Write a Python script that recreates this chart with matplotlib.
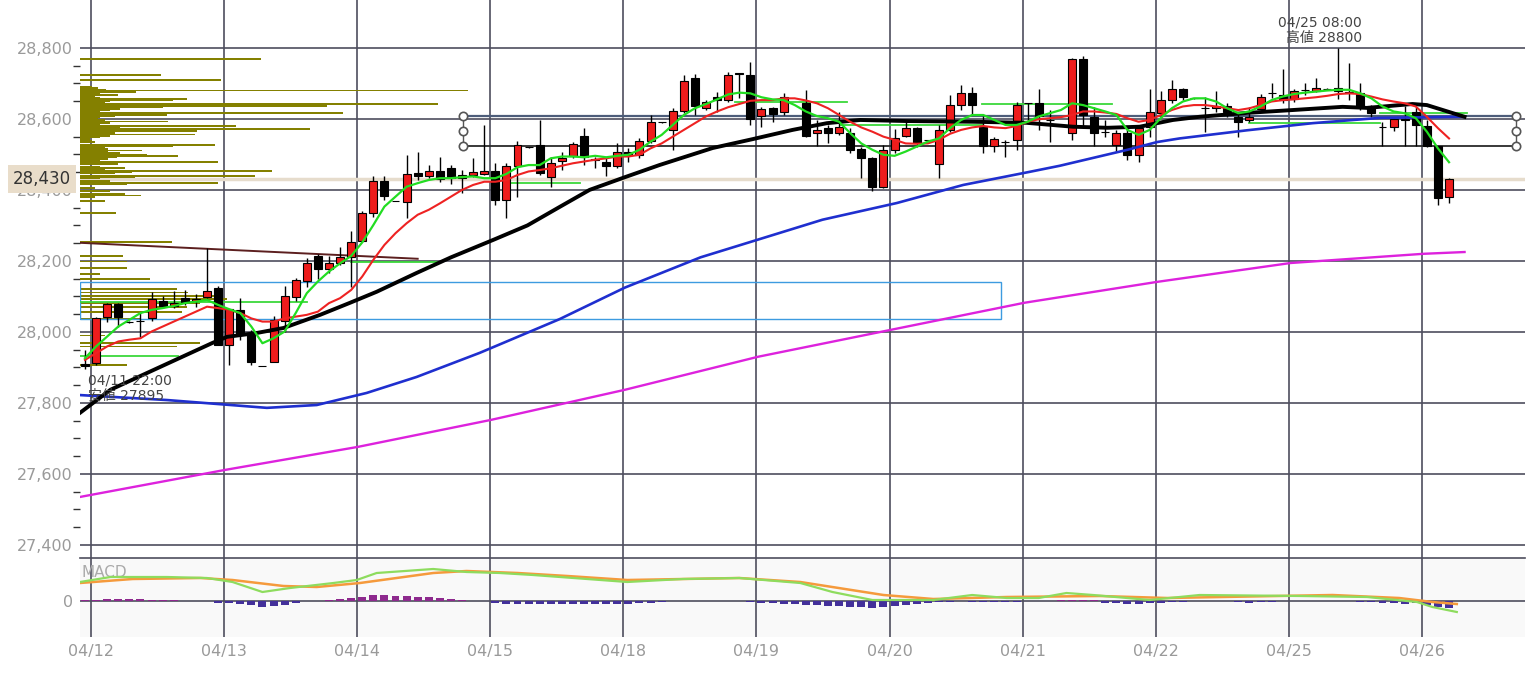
import numpy as np
import matplotlib.pyplot as plt
from matplotlib.patches import Rectangle
from matplotlib.ticker import FixedLocator, FuncFormatter
import matplotlib.transforms as mtransforms

nan = np.nan

# --- 2h candles, 04/11 22:00 -> 04/26 ---
opens = [27910, 27912, 28041, 28079, 28027, 28030, 28038, 28087, 28073, 28095,
         28088, 28098, 28123, 27963, 28062, 27998, 27903, 27916, 28032, 28097,
         28142, 28214, 28176, 28193, 28212, 28257, 28334, 28426, 28370, 28367,
         28449, 28439, 28453, 28461, 28434, 28442, 28445, 28452, 28372, 28468,
         28520, 28527, 28437, 28481, 28496, 28552, 28485, 28480, 28468, 28508,
         28499, 28539, 28590, 28569, 28623, 28715, 28630, 28663, 28654, 28728,
         28724, 28608, 28632, 28620, nan, 28644, 28559, 28574, 28561, 28559,
         28514, 28489, 28407, 28513, 28552, 28574, 28541, 28473, 28569, 28639,
         28674, 28576, 28524, 28536, 28541, 28644, 28644, 28597, nan, 28560,
         28768, 28605, 28564, 28527, 28559, 28499, 28576, 28618, 28653, 28683,
         28658, 28630, 28630, 28636, 28606, 28597, 28627, 28672, 28667, 28655,
         28682, 28680, 28684, 28686, 28672, 28673, 28636, 28578, 28576, 28600,
         28620, 28580, 28524, 28380]
highs = [27950, 28043, 28081, 28081, 28030, 28053, 28111, 28100, 28116, 28118,
         28106, 28236, 28130, 28064, 28095, 28005, 27903, 28046, 28130, 28151,
         28207, 28220, 28213, 28238, 28284, 28341, 28438, 28438, 28370, 28499,
         28508, 28470, 28494, 28470, 28456, 28489, 28583, 28475, 28475, 28539,
         28522, 28597, 28494, 28508, 28536, 28574, 28492, 28494, 28533, 28517,
         28545, 28611, 28592, 28630, 28724, 28727, 28653, 28677, 28733, 28730,
         28759, 28634, 28634, 28672, nan, 28682, 28597, 28583, 28620, 28573,
         28522, 28494, 28527, 28571, 28597, 28578, 28541, 28583, 28668, 28696,
         28689, 28608, 28550, 28541, 28649, 28646, 28683, 28625, nan, 28771,
         28777, 28634, 28597, 28569, 28580, 28583, 28683, 28680, 28710, 28686,
         28660, 28663, 28680, 28644, 28620, 28634, 28670, 28700, 28740, 28683,
         28702, 28714, 28688, 28800, 28758, 28700, 28639, 28590, 28604, 28636,
         28634, 28597, 28524, 28433]
lows = [27895, 27907, 28029, 28015, 28025, 27987, 28032, 28067, 28068, 28077,
        28070, 28095, 27963, 27907, 27977, 27907, 27903, 27916, 28001, 28088,
        28126, 28148, 28165, 28188, 28126, 28252, 28325, 28372, 28370, 28320,
        28428, 28433, 28423, 28418, 28390, 28437, 28442, 28358, 28320, 28381,
        28518, 28442, 28409, 28456, 28489, 28470, 28462, 28438, 28461, 28480,
        28489, 28532, 28588, 28513, 28616, 28611, 28625, 28620, 28649, 28660,
        28583, 28578, 28592, 28611, nan, 28550, 28524, 28533, 28555, 28505,
        28433, 28398, 28405, 28503, 28550, 28521, 28541, 28433, 28564, 28625,
        28611, 28503, 28508, 28494, 28512, 28592, 28569, 28536, nan, 28541,
        28580, 28524, 28550, 28508, 28484, 28480, 28550, 28606, 28644, 28653,
        28656, 28564, 28620, 28606, 28550, 28592, 28625, 28658, 28644, 28649,
        28667, 28676, 28684, 28655, 28654, 28625, 28605, 28524, 28567, 28524,
        28524, 28522, 28358, 28362]
closes = [27903, 28038, 28079, 28041, 28027, 28030, 28092, 28073, 28082, 28083,
          28093, 28116, 27963, 28064, 27991, 27916, 27903, 28034, 28102, 28146,
          28193, 28176, 28193, 28212, 28253, 28334, 28426, 28383, 28370, 28444,
          28439, 28453, 28430, 28433, 28442, 28451, 28453, 28372, 28468, 28527,
          28520, 28447, 28477, 28489, 28529, 28492, 28487, 28468, 28508, 28499,
          28539, 28590, 28590, 28623, 28708, 28635, 28649, 28654, 28724, 28726,
          28599, 28627, 28614, 28663, nan, 28552, 28569, 28561, 28578, 28512,
          28489, 28409, 28513, 28545, 28574, 28531, 28541, 28569, 28639, 28672,
          28639, 28524, 28542, 28536, 28639, 28644, 28607, 28597, nan, 28768,
          28611, 28560, 28564, 28561, 28499, 28574, 28620, 28653, 28683, 28661,
          28658, 28630, 28636, 28620, 28590, 28606, 28662, 28672, 28653, 28680,
          28682, 28688, 28684, 28680, 28676, 28635, 28618, 28578, 28601, 28598,
          28583, 28524, 28376, 28430]

# short / mid moving averages (one value per candle)
ma_green = [27926, 27959, 27987, 28015, 28034, 28053, 28062, 28067, 28073, 28081,
            28085, 28090, 28076, 28064, 28053, 28015, 27968, 27982, 28001, 28053,
            28109, 28142, 28170, 28193, 28214, 28252, 28301, 28353, 28381, 28409,
            28419, 28428, 28433, 28433, 28436, 28438, 28433, 28433, 28445, 28464,
            28470, 28470, 28489, 28494, 28494, 28492, 28496, 28492, 28496, 28499,
            28513, 28536, 28555, 28583, 28611, 28630, 28642, 28655, 28669, 28674,
            28672, 28661, 28655, 28653, 28639, 28621, 28608, 28602, 28592, 28560,
            28531, 28513, 28499, 28496, 28508, 28522, 28536, 28545, 28574, 28597,
            28611, 28611, 28597, 28583, 28583, 28592, 28607, 28616, 28625, 28644,
            28639, 28630, 28621, 28611, 28569, 28555, 28569, 28602, 28630, 28649,
            28658, 28658, 28649, 28630, 28616, 28621, 28635, 28653, 28663, 28670,
            28674, 28677, 28680, 28682, 28682, 28672, 28658, 28635, 28621, 28616,
            28602, 28564, 28517, 28478]
ma_red = [27921, 27940, 27959, 27973, 27978, 27982, 28001, 28015, 28029, 28043,
          28057, 28071, 28067, 28062, 28053, 28038, 28029, 28029, 28038, 28043,
          28048, 28057, 28081, 28095, 28118, 28156, 28203, 28245, 28278, 28306,
          28330, 28344, 28362, 28381, 28400, 28414, 28423, 28423, 28428, 28442,
          28452, 28456, 28461, 28468, 28475, 28480, 28485, 28489, 28494, 28494,
          28499, 28517, 28531, 28550, 28569, 28588, 28607, 28621, 28633, 28642,
          28651, 28653, 28653, 28658, 28658, 28652, 28644, 28630, 28611, 28592,
          28576, 28564, 28550, 28541, 28531, 28530, 28531, 28541, 28558, 28569,
          28576, 28580, 28576, 28574, 28580, 28592, 28599, 28602, 28605, 28611,
          28621, 28621, 28618, 28614, 28602, 28592, 28597, 28611, 28625, 28635,
          28639, 28639, 28635, 28630, 28625, 28630, 28639, 28649, 28653, 28655,
          28658, 28661, 28665, 28670, 28672, 28670, 28663, 28655, 28649, 28644,
          28635, 28606, 28574, 28545]

# slower averages, read at a few candle positions
ma_black_x = [-0.45, 2.3, 11.5, 12.8, 15.5, 17.9, 21.2, 23.9, 26.3, 29.9, 33.0, 36.8,
              39.9, 42.8, 45.5, 48.7, 51.8, 56.6, 60.2, 63.8, 66.9, 69.9, 74.1, 80.1, 84.9,
              89.1, 92.2, 95.1, 98.1, 100.5, 104.8, 108.9, 113.4, 115.6, 119.7, 121.0, 124.4]
ma_black = [27772, 27837, 27969, 27986, 27997, 28011, 28048, 28082, 28113, 28166, 28210, 28259,
            28300, 28352, 28400, 28436, 28470, 28518, 28543, 28569, 28588, 28597, 28594, 28592, 28589,
            28578, 28575, 28578, 28597, 28606, 28617, 28625, 28634, 28631, 28642, 28639, 28606]
ma_blue_x = [-0.45, 7.4, 16.4, 20.9, 25.4, 29.9, 35.6, 42.8, 48.7, 55.5, 60.9, 66.5,
             73.2, 79.2, 85.2, 87.9, 94.0, 96.7, 98.7, 104.8, 110.7, 116.8, 124.3]
ma_blue = [27822, 27808, 27786, 27794, 27828, 27873, 27941, 28036, 28125, 28210, 28262, 28316,
           28363, 28414, 28451, 28468, 28513, 28535, 28545, 28568, 28588, 28603, 28606]
ma_mag_x = [-0.45, 12.6, 24.6, 36.6, 48.7, 60.7, 72.7, 84.7, 96.7, 108.7, 120.7, 124.4]
ma_mag = [27535, 27611, 27676, 27752, 27837, 27930, 28006, 28082, 28141, 28194, 28220, 28225]

# price-by-volume profile
vp_price = [28768, 28724, 28710, 28690, 28686, 28683, 28680, 28676, 28672, 28668, 28664, 28660,
            28656, 28653, 28649, 28645, 28641, 28636, 28632, 28628, 28624, 28620, 28616, 28612,
            28608, 28604, 28600, 28596, 28593, 28589, 28585, 28580, 28576, 28571, 28566, 28561,
            28556, 28552, 28548, 28543, 28539, 28534, 28527, 28523, 28519, 28515, 28511, 28507,
            28503, 28499, 28495, 28491, 28486, 28482, 28478, 28474, 28466, 28462, 28458, 28454,
            28450, 28446, 28440, 28436, 28432, 28424, 28419, 28415, 28405, 28398, 28388, 28384,
            28380, 28369, 28336, 28253, 28214, 28198, 28179, 28164, 28148, 28120, 28111, 28101,
            28092, 28081, 28071, 28057, 28036, 27990, 27968, 27959, 27907]
vp_volume = [181, 81, 141, 12, 18, 26, 388, 56, 20, 38, 15, 20,
             107, 93, 30, 25, 358, 247, 83, 40, 30, 20, 263, 87,
             35, 20, 18, 25, 88, 30, 20, 156, 40, 230, 117, 35,
             115, 30, 20, 10, 12, 15, 135, 93, 25, 28, 62, 28,
             40, 67, 98, 37, 28, 20, 138, 38, 20, 45, 25, 192,
             52, 35, 175, 55, 20, 30, 138, 47, 15, 30, 45, 61,
             15, 25, 36, 92, 43, 47, 47, 20, 70, 97, 108, 140,
             147, 120, 107, 102, 60, 25, 120, 97, 47]

# support / resistance segments: start, end, price
seg_x0 = [-0.45, -0.45, 24, 38.3, 58.6, 68.1, 80.9, 105, 116.8]
seg_x1 = [8.4, 20.0, 32, 44.6, 68.7, 81, 92.6, 116.8, 124.6]
seg_p = [27933, 28084, 28197, 28420, 28648, 28583, 28642, 28589, 28617]

# MACD panel
macd_x = [-0.45, 2.3, 7.4, 11, 13.3, 16, 18.5, 22.4, 24.5, 26.3, 31.4, 34.4, 37.4, 40.4,
          48.9, 53.9, 59, 64.5, 67.4, 71, 76.5, 80, 83.1, 86, 88.5, 90.9, 96, 100.5,
          109.6, 115.6, 120.1, 121.5, 123.7]
macd = [38, 48, 48, 46, 38, 18, 26, 36, 42, 56, 64, 58, 56, 52,
        38, 44, 46, 36, 18, 2, 2, 12, 6, 6, 16, 12, 2, 12,
        10, 8, -2, -12, -22]
signal_x = [-0.45, 4.3, 10.4, 13.3, 17.9, 20.9, 24.8, 31.4, 34.4, 39, 43.5, 48.9, 59,
            64.5, 72, 76.5, 83.1, 91.5, 97.6, 112.5, 118.5, 121.5, 123.7]
signal = [36, 44, 46, 42, 30, 28, 36, 56, 60, 56, 50, 42, 46,
          38, 12, 4, 8, 10, 6, 12, 6, -2, -6]
hist = [2, 3, 4, 5, 5, 4, 3, 3, 2, 1,
        0, 0, -3, -4, -6, -8, -12, -10, -7, -3,
        0, 1, 2, 4, 6, 8, 12, 12, 10, 10,
        9, 8, 6, 4, 2, 0, 0, -4, -5, -5,
        -5, -6, -6, -6, -6, -6, -6, -6, -6, -5,
        -4, -3, -1, 0, 1, 0, 0, 0, 0, 0,
        -2, -3, -4, -5, -6, -7, -8, -9, -10, -11,
        -12, -14, -12, -9, -7, -5, -3, -2, -1, 0,
        -1, -1, -2, -2, -1, 0, 0, 1, 2, 3,
        3, 2, -3, -4, -5, -5, -4, -3, -2, -1,
        0, 0, 0, 0, -2, -3, -2, -1, 0, 0,
        0, 0, 0, 0, 0, -1, -2, -3, -4, -5,
        -4, -8, -12, -14]

day_labels = ['04/12', '04/13', '04/14', '04/15', '04/18', '04/19', '04/20',
              '04/21', '04/22', '04/25', '04/26']
last_price = 28430

W, H = 1530, 675
fig = plt.figure(figsize=(W / 100, H / 100), dpi=100, facecolor='white')
ax = fig.add_axes([80 / W, (H - 558) / H, (1525 - 80) / W, 558 / H])
axm = fig.add_axes([80 / W, (H - 637) / H, (1525 - 80) / W, (637 - 558) / H], sharex=ax)

grid_col = '#4e4e5e'
lab_col = '#9a9a9a'
ax.set_xlim(-0.45, 129.85)
ax.set_ylim(27363, 28935)
axm.set_ylim(-72, 86)
axm.set_facecolor('#f9f9f9')

day_pos = [0.55 + 12 * k for k in range(len(day_labels))]
for a in (ax, axm):
    a.set_xticks(day_pos)
    a.grid(True, color=grid_col, lw=1.2, zorder=0)
    a.set_axisbelow(True)
    for s in a.spines.values():
        s.set_visible(False)
axm.spines['top'].set_visible(True)
axm.spines['top'].set_color(grid_col)
axm.spines['top'].set_linewidth(1.2)

ax.set_yticks(range(27400, 28801, 200))
ax.yaxis.set_major_formatter(FuncFormatter(lambda v, p: f'{int(v):,}'))
ax.yaxis.set_minor_locator(FixedLocator(range(27400, 28801, 50)))
ax.tick_params(axis='y', which='major', length=0, pad=5, labelsize=11.5, labelcolor=lab_col)
ax.tick_params(axis='y', which='minor', length=5, width=1, color='#333333')
ax.tick_params(axis='x', length=0, labelbottom=False)
axm.set_yticks([0])
axm.tick_params(axis='y', length=0, pad=5, labelsize=11.5, labelcolor=lab_col)
axm.set_xticklabels(day_labels)
axm.tick_params(axis='x', length=0, pad=5, labelsize=11.5, labelcolor=lab_col)

# current price line
ax.axhline(last_price, color='#e6dccc', lw=2.5, zorder=1)

# volume profile
ax.barh(vp_price, np.array(vp_volume) / 11.09, left=-0.45, height=5,
        color='#848000', zorder=2)

# drawn objects
ax.add_patch(Rectangle((-0.45, 28037), 83.05, 104, fill=False, ec='#3d9be0', lw=1, zorder=3))
ax.plot([-0.45, 30.0], [28251, 28206], color='#5c1f1f', lw=1.4, zorder=3)
for x0, x1, p in zip(seg_x0, seg_x1, seg_p):
    ax.plot([x0, x1], [p, p], color='#3ad83a', lw=1.3, zorder=3)

box_x = [34.1, 129.0]
ax.plot(box_x, [28608, 28608], color='#4d5d7a', lw=1.6, zorder=3)
ax.plot(box_x, [28524, 28524], color='#2a2a2a', lw=1.3, zorder=3)
for bx in box_x:
    ax.plot([bx, bx], [28608, 28524], color='#555555', lw=1, zorder=3)
    ax.plot([bx] * 3, [28608, 28566, 28524], 'o', ms=6, mfc='white', mec='#555555',
            mew=1.2, zorder=3)

# candles
o = np.array(opens, float)
h = np.array(highs, float)
l = np.array(lows, float)
c = np.array(closes, float)
idx = np.arange(len(o))
ok = ~np.isnan(o)
up = c >= o
ax.vlines(idx[ok], l[ok], h[ok], color='black', lw=1, zorder=4)
ax.bar(idx[ok], (c - o)[ok], bottom=o[ok], width=0.72,
       color=np.where(up, '#ee1c1c', '#000000')[ok], edgecolor='black', lw=0.8, zorder=5)

# moving averages
ax.plot(ma_mag_x, ma_mag, color='#dd22dd', lw=1.7, zorder=6)
ax.plot(ma_blue_x, ma_blue, color='#1f2fcf', lw=1.9, zorder=6)
ax.plot(ma_black_x, ma_black, color='black', lw=2.8, zorder=6)
ax.plot(idx, ma_red, color='#ee2222', lw=1.5, zorder=7)
ax.plot(idx, ma_green, color='#22dd22', lw=1.6, zorder=7)

# annotations
jp = ['DejaVu Sans', 'Noto Sans CJK JP']
ax.annotate('04/11 22:00\n安値 27895', xy=(0, 27895), xytext=(3, -4),
            textcoords='offset pixels', ha='left', va='top', fontsize=10,
            color='#444444', family=jp, linespacing=1.1, zorder=8)
ax.annotate('04/25 08:00\n高値 28800', xy=(113, 28800), xytext=(24, 3),
            textcoords='offset pixels', ha='right', va='bottom', fontsize=10,
            color='#444444', family=jp, linespacing=1.1, zorder=8)

trans = mtransforms.blended_transform_factory(ax.transAxes, ax.transData)
ax.text(-0.006, last_price, f'{last_price:,}', transform=trans, ha='right', va='center',
        fontsize=12, color='#333333', zorder=9, clip_on=False,
        bbox=dict(boxstyle='square,pad=0.3', fc='#e9ddca', ec='none'))

# MACD
pos = np.array(hist) >= 0
axm.bar(idx, hist, width=0.72, color=np.where(pos, '#8e2a8e', '#43309a'), zorder=2)
axm.plot(signal_x, signal, color='#f59a3c', lw=1.8, zorder=3)
axm.plot(macd_x, macd, color='#8edc5e', lw=1.6, zorder=3)
axm.text(0.001, 0.82, 'MACD', transform=axm.transAxes, fontsize=11, color='#aaaaaa',
         va='center', ha='left', zorder=1)

fig.savefig('out.png', dpi=100, facecolor=fig.get_facecolor())
